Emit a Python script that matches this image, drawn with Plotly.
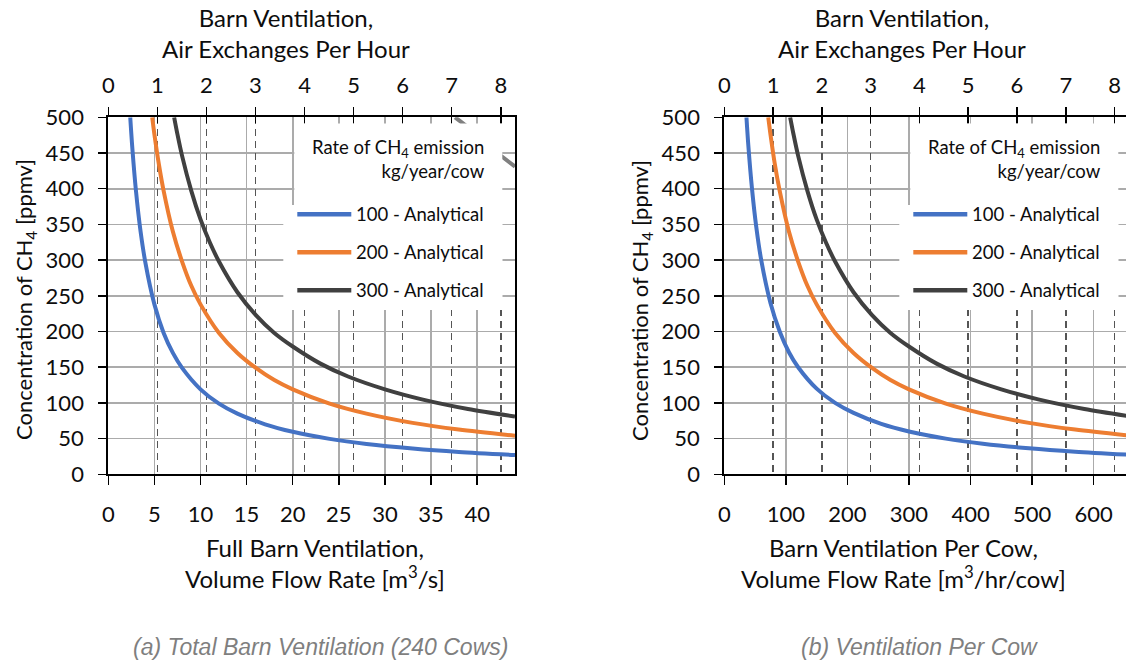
import plotly.graph_objects as go

W, H = 1126, 662

# ---- Panel (a): full-barn volume flow [m3/s] vs CH4 concentration [ppmv]
flow_a_100 = [2.38, 2.6, 3.0, 3.5, 4.0, 5.0, 6.0, 7.0, 8.0, 10, 12, 14, 17, 20, 24, 28, 33, 38, 44.1]
conc_a_100 = [500, 458, 397, 340, 298, 238, 198, 170, 149, 119, 99, 85, 70, 59.5, 49.6, 42.5, 36.1, 31.3, 27.0]
flow_a_200 = [4.76, 5.0, 5.5, 6.0, 7.0, 8.0, 9.0, 10, 12, 14, 16, 18, 20, 24, 28, 33, 38, 44.1]
conc_a_200 = [500, 476, 433, 397, 340, 298, 264, 238, 198, 170, 149, 132, 119, 99, 85, 72, 62.6, 54.0]
flow_a_300 = [7.14, 7.5, 8, 9, 10, 11, 12, 14, 16, 18, 20, 23, 26, 30, 34, 39, 44.1]
conc_a_300 = [500, 476, 446, 397, 357, 325, 298, 255, 223, 198, 179, 155, 137, 119, 105, 91.5, 81.0]
flow_a_grey = [37.6, 39.0, 40.5, 42.0, 44.1]
conc_a_grey = [500, 486, 469, 452, 431]

# ---- Panel (b): per-cow volume flow [m3/hr/cow] vs CH4 concentration [ppmv]
flow_b_100 = [36, 39, 45, 52, 60, 75, 90, 105, 120, 150, 180, 210, 255, 300, 360, 420, 495, 570, 661]
conc_b_100 = [500, 461, 400, 346, 300, 240, 200, 171, 150, 120, 100, 86, 70.6, 60, 50, 42.9, 36.4, 31.6, 27.2]
flow_b_200 = [71.4, 75, 82, 90, 105, 120, 135, 150, 180, 210, 240, 270, 300, 360, 420, 495, 570, 661]
conc_b_200 = [500, 476, 435, 397, 340, 298, 264, 238, 198, 170, 149, 132, 119, 99, 85, 72, 62.6, 54]
flow_b_300 = [107, 112, 120, 135, 150, 165, 180, 210, 240, 270, 300, 345, 390, 450, 510, 585, 661]
conc_b_300 = [500, 478, 446, 397, 357, 325, 298, 255, 223, 198, 179, 155, 137, 119, 105, 91.5, 81]

series_names = ["100 - Analytical", "200 - Analytical", "300 - Analytical"]
series_colors = ["#4472C4", "#ED7D31", "#404040"]

ticks_a_bottom = [0, 5, 10, 15, 20, 25, 30, 35, 40]
ticks_b_bottom = [0, 100, 200, 300, 400, 500, 600]
ticks_top = [0, 1, 2, 3, 4, 5, 6, 7, 8]
ticks_y = [0, 50, 100, 150, 200, 250, 300, 350, 400, 450, 500]

FONT = "Lato"
INK = "#0d0d0d"
GRID = "#ababab"
DASH_GRID = "#555555"


def px(x):
    return x / W


def py(y):
    return 1 - y / H


fig = go.Figure()

# curves
for xs, ys, name, col in zip([flow_a_100, flow_a_200, flow_a_300],
                             [conc_a_100, conc_a_200, conc_a_300],
                             series_names, series_colors):
    fig.add_trace(go.Scatter(x=xs, y=ys, name=name, mode="lines",
                             line=dict(color=col, width=4, shape="spline", smoothing=0.8),
                             xaxis="x", yaxis="y", hoverinfo="skip"))
fig.add_trace(go.Scatter(x=flow_a_grey, y=conc_a_grey, mode="lines", showlegend=False,
                         line=dict(color="#808080", width=4, shape="spline"),
                         xaxis="x", yaxis="y", hoverinfo="skip"))
for xs, ys, name, col in zip([flow_b_100, flow_b_200, flow_b_300],
                             [conc_b_100, conc_b_200, conc_b_300],
                             series_names, series_colors):
    fig.add_trace(go.Scatter(x=xs, y=ys, name=name, mode="lines",
                             line=dict(color=col, width=4, shape="spline", smoothing=0.8),
                             xaxis="x4", yaxis="y2", hoverinfo="skip"))

# empty traces so the air-exchange (top) axes get their own subplots
for xa, ya in [("x2", "y"), ("x3", "y"), ("x5", "y2"), ("x6", "y2")]:
    fig.add_trace(go.Scatter(x=[None], y=[None], mode="lines", showlegend=False,
                             xaxis=xa, yaxis=ya, hoverinfo="skip"))

# plot-area geometry in pixels
PA_L, PA_R = 108.3, 515.0
PB_L, PB_R = 724.3, 1126.0
P_TOP, P_BOT = 117.3, 474.3
ydom = [py(P_BOT), py(P_TOP)]

tickfont = dict(family=FONT, size=22, color=INK)


def bottom_axis(dom, rng, vals, anchor):
    return dict(domain=dom, range=rng, tickvals=vals, ticktext=[str(v) for v in vals],
                ticks="outside", ticklen=9, tickwidth=1.5, tickcolor="black",
                showline=True, linecolor="black", linewidth=2,
                showgrid=True, gridcolor=GRID, gridwidth=1.7, zeroline=False,
                tickfont=tickfont, anchor=anchor, ticklabelstandoff=10, fixedrange=True,
                automargin=False)


def top_axis(over, rng, anchor):
    return dict(overlaying=over, side="top", anchor=anchor, range=rng,
                tickvals=ticks_top, ticks="outside", ticklen=8, tickwidth=1.5, tickcolor="black",
                showline=True, linecolor="black", linewidth=2,
                showgrid=True, gridcolor=DASH_GRID, gridwidth=1.5, griddash="7px,5px",
                zeroline=False, tickfont=tickfont, ticklabelstandoff=6, fixedrange=True,
                automargin=False)


def top_inner(over, rng, anchor):
    return dict(overlaying=over, side="top", anchor=anchor, range=rng,
                tickvals=ticks_top, ticks="inside", ticklen=6, tickwidth=1.5, tickcolor="black",
                showline=False, showgrid=False, zeroline=False, showticklabels=False,
                fixedrange=True, automargin=False)


def left_axis(anchor, mirror):
    return dict(domain=ydom, range=[0, 500], tickvals=ticks_y, anchor=anchor,
                ticks="outside", ticklen=8, tickwidth=1.5, tickcolor="black",
                showline=True, linecolor="black", linewidth=2, mirror=mirror,
                showgrid=True, gridcolor=GRID, gridwidth=1.7, zeroline=False,
                tickfont=tickfont, ticklabelstandoff=10, fixedrange=True, automargin=False)


fig.update_layout(
    width=W, height=H, autosize=False,
    margin=dict(l=0, r=0, t=0, b=0, pad=0, autoexpand=False),
    paper_bgcolor="white", plot_bgcolor="white", showlegend=False,
    font=dict(family=FONT, color=INK),
    xaxis=bottom_axis([px(PA_L), px(PA_R)], [0, 44.1], ticks_a_bottom, "y"),
    xaxis2=top_axis("x", [0, 8.29], "y"),
    xaxis3=top_inner("x", [0, 8.29], "y"),
    yaxis=left_axis("x", True),
    xaxis4=bottom_axis([px(PB_L), px(PB_R)], [0, 652.6], ticks_b_bottom, "y2"),
    xaxis5=top_axis("x4", [0, 8.235], "y2"),
    xaxis6=top_inner("x4", [0, 8.235], "y2"),
    yaxis2=left_axis("x4", False),
)

shapes = []
annotations = []
legend_font = dict(family=FONT, size=18.5, color=INK)
title_font = dict(family=FONT, size=24, color=INK)

for PL in (PA_L, PB_L):
    # white legend panel over the grid
    shapes.append(dict(type="rect", xref="paper", yref="paper", layer="above",
                       x0=px(PL + 186), x1=px(PL + 394), y0=py(310), y1=py(123.5),
                       fillcolor="white", line=dict(width=0)))
    shapes.append(dict(type="rect", xref="paper", yref="paper", layer="above",
                       x0=px(PL + 175), x1=px(PL + 394), y0=py(310), y1=py(205),
                       fillcolor="white", line=dict(width=0)))
    annotations.append(dict(xref="paper", yref="paper", x=px(PL + 379), y=py(159),
                            xanchor="right", yanchor="middle", align="right", showarrow=False,
                            text="Rate of CH<sub>4</sub> emission<br>kg/year/cow", font=legend_font))
    for i, (name, col) in enumerate(zip(series_names, series_colors)):
        yy = 214.3 + 38 * i
        shapes.append(dict(type="line", xref="paper", yref="paper", layer="above",
                           x0=px(PL + 189), x1=px(PL + 243), y0=py(yy), y1=py(yy),
                           line=dict(color=col, width=4.5)))
        annotations.append(dict(xref="paper", yref="paper", x=px(PL + 246), y=py(yy),
                                xanchor="left", yanchor="middle", showarrow=False,
                                text=name, font=legend_font))


def centered(text, x, y, font, **kw):
    annotations.append(dict(xref="paper", yref="paper", x=px(x), y=py(y), xanchor="center",
                            yanchor="middle", showarrow=False, text=text, font=font, **kw))


# panel titles (top axis)
centered("Barn Ventilation,<br>Air Exchanges Per Hour", 286, 33, title_font)
centered("Barn Ventilation,<br>Air Exchanges Per Hour", 902, 33, title_font)
# bottom axis titles
centered("Full Barn Ventilation,<br>Volume Flow Rate [m<sup>3</sup>/s]", 315, 563, title_font)
centered("Barn Ventilation Per Cow,<br>Volume Flow Rate [m<sup>3</sup>/hr/cow]", 903, 563, title_font)
# y axis titles
ytitle_font = dict(family=FONT, size=22, color=INK)
centered("Concentration of CH<sub>4</sub> [ppmv]", 25, 300, ytitle_font, textangle=-90)
centered("Concentration of CH<sub>4</sub> [ppmv]", 641, 300, ytitle_font, textangle=-90)
# captions
cap_font = dict(family="Liberation Sans", size=23, color="#7f7f7f", style="italic")
centered("(a) Total Barn Ventilation (240 Cows)", 320, 647, cap_font)
centered("(b) Ventilation Per Cow", 919, 647, cap_font)

fig.update_layout(shapes=shapes, annotations=annotations)
fig.write_html("out.html", config={"staticPlot": True},
               post_script="document.body.style.margin='0';document.body.style.overflow='hidden';")
